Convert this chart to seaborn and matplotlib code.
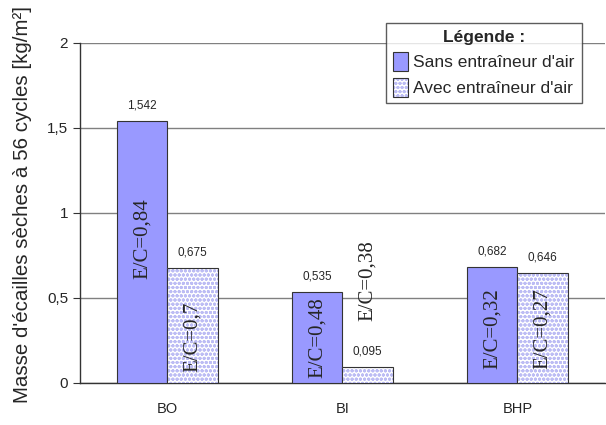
import pandas as pd
import seaborn as sns
import matplotlib.pyplot as plt
from matplotlib.patches import Patch, Rectangle
from matplotlib.ticker import FuncFormatter

categories = ["BO", "BI", "BHP"]
sans = [1.542, 0.535, 0.682]
avec = [0.675, 0.095, 0.646]
ec_sans = ["E/C=0,84", "E/C=0,48", "E/C=0,32"]
ec_avec = ["E/C=0,7", "E/C=0,38", "E/C=0,27"]
series = ["Sans entraîneur d'air", "Avec entraîneur d'air"]

# hauteur (en kg/m²) du centre des étiquettes E/C
ec_y_sans = [0.85, 0.265, 0.32]
ec_y_avec = [0.27, 0.6, 0.32]

df = pd.DataFrame({
    "cat": categories * 2,
    "val": sans + avec,
    "type": [series[0]] * 3 + [series[1]] * 3,
})

sns.set_style("white")
plt.rcParams["font.family"] = ["Liberation Sans", "DejaVu Sans"]

fig = plt.figure(figsize=(6.06, 4.25), dpi=100)
ax = fig.add_axes([0.132, 0.099, 0.866, 0.8])

sns.barplot(data=df, x="cat", y="val", hue="type", order=categories,
            hue_order=series, palette=["#9999ff", "white"], saturation=1,
            width=0.58, edgecolor="#333333", linewidth=0.8, errorbar=None,
            legend=False, ax=ax, zorder=3)

bars = [p for p in ax.patches if isinstance(p, Rectangle)]
sans_bars = bars[:3]
avec_bars = bars[3:6]

hatch_col = "#bcbcf4"
for p in avec_bars:
    p.set_hatch("oooo")
    p.set_edgecolor(hatch_col)
    p.set_linewidth(0)
    ax.add_patch(Rectangle(p.get_xy(), p.get_width(), p.get_height(),
                           fill=False, edgecolor="#333333", linewidth=0.8,
                           zorder=4))

for grp, vals, labs, ys in [(sans_bars, sans, ec_sans, ec_y_sans),
                            (avec_bars, avec, ec_avec, ec_y_avec)]:
    for p, v, lab, y in zip(grp, vals, labs, ys):
        xc = p.get_x() + p.get_width() / 2
        ax.annotate(str(v).replace(".", ","), (xc, v), xytext=(0, 7),
                    textcoords="offset points", ha="center", va="bottom",
                    fontsize=8.5, zorder=5)
        ax.text(xc, y, lab, rotation=90, ha="center", va="center",
                fontsize=15, family=["Liberation Serif"], zorder=5)

ax.set_ylim(0, 2)
ax.set_xlim(-0.5, 2.5)
ax.set_yticks([0, 0.5, 1, 1.5, 2])
ax.yaxis.set_major_formatter(FuncFormatter(lambda v, _: f"{v:g}".replace(".", ",")))
ax.yaxis.grid(True, color="#808080", linewidth=1, zorder=0)
ax.set_axisbelow(True)
ax.set_xticks([-0.5, 0.5, 1.5, 2.5], minor=True)
ax.tick_params(axis="x", which="major", length=0, labelsize=10.5, pad=14)
ax.tick_params(axis="x", which="minor", length=5, direction="out", color="#333333")
ax.tick_params(axis="y", length=5, direction="out", left=True, color="#333333",
               labelsize=11)
for s in ["top", "right"]:
    ax.spines[s].set_visible(False)
for s in ["left", "bottom"]:
    ax.spines[s].set_color("#333333")
    ax.spines[s].set_linewidth(1)

ax.set_xlabel("")
ax.set_ylabel("Masse d'écailles sèches à 56 cycles [kg/m²]", fontsize=14.8)
ax.yaxis.set_label_coords(-0.092, 0.524)

h_sans = Patch(facecolor="#9999ff", edgecolor="#333333", linewidth=0.8)
h_avec = (Patch(facecolor="white", edgecolor=hatch_col, hatch="oooo", linewidth=0),
          Patch(fill=False, edgecolor="#333333", linewidth=0.8))
leg = ax.legend([h_sans, h_avec], series, title="Légende :",
                loc="upper right", bbox_to_anchor=(0.956, 1.059),
                fontsize=12.5, title_fontproperties={"weight": "bold", "size": 12.5},
                frameon=True, fancybox=False, edgecolor="#333333",
                handlelength=0.9, handleheight=1.3, handletextpad=0.3,
                borderpad=0.4, labelspacing=0.4, borderaxespad=0)
leg.get_frame().set_linewidth(1)
leg.set_zorder(10)

fig.savefig("out.png", dpi=100, facecolor="white")
